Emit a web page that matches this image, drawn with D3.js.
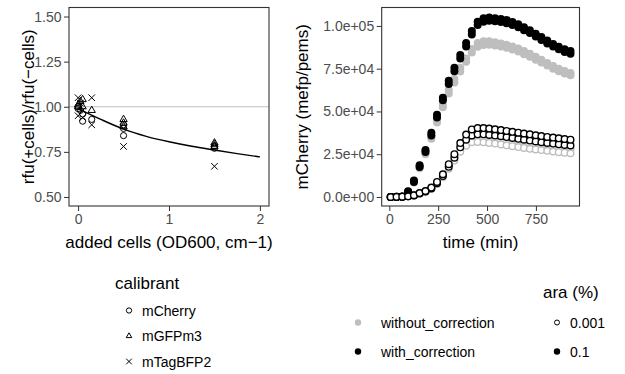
<!DOCTYPE html>
<html>
<head>
<meta charset="utf-8">
<script src="https://cdn.jsdelivr.net/npm/d3@7"></script>
<style>
    body { margin: 0; background: #fff; }
    svg { font-family: "Liberation Sans", Arial, Helvetica, sans-serif; }
    .assi text { fill: #4d4d4d; font-size: 14px; }
    .assi line { stroke: #333; }
    .assi path { display: none; }
</style>
</head>
<body>
<svg width="625" height="374"></svg>
<script>
"use strict"
// --- pannello sinistro: calibranti ---
const calibranti = ["mCherry", "mGFPm3", "mTagBFP2"];
const odCherry = [0, 0, 0.025, 0.05, 0.05, 0.15, 0.5, 0.5, 0.5, 1.5, 1.5];
const rfuCherry = [1.00, 0.99, 0.98, 0.96, 0.92, 0.93, 0.90, 0.88, 0.84, 0.78, 0.77];
const odGFP = [0, 0, 0.025, 0.05, 0.05, 0.15, 0.5, 0.5, 0.5, 1.5, 1.5, 1.5];
const rfuGFP = [1.01, 1.00, 1.03, 1.04, 1.00, 0.98, 0.93, 0.91, 0.89, 0.80, 0.79, 0.78];
const odBFP = [0, 0, 0.025, 0.05, 0.05, 0.15, 0.15, 0.5, 1.5];
const rfuBFP = [1.05, 0.95, 1.02, 0.98, 0.94, 1.05, 0.90, 0.78, 0.67];
// curva stimata
const curvaX = [0, 0.25, 0.5, 0.75, 1, 1.25, 1.5, 1.75, 2];
const curvaY = [0.99, 0.93, 0.876, 0.836, 0.806, 0.781, 0.760, 0.740, 0.722];
const tickSx = [0, 1, 2];
const tickSy = [0.5, 0.75, 1, 1.25, 1.5];

// --- pannello destro: mCherry nel tempo (migliaia di mefp/pems) ---
const tempi = [7, 37, 66, 96, 126, 155, 185, 215, 244, 274, 304, 333, 363, 393, 422, 452,
    482, 511, 541, 571, 600, 630, 660, 689, 719, 749, 778, 808, 838, 867, 897, 927];
const con01A = [0, 0, 0.3, 3.3, 9.6, 18.6, 27.5, 37.5, 48, 58, 68, 75.5, 83, 90, 97, 102.5,
    104.5, 105, 104.5, 104, 103.5, 102.3, 101, 99.3, 97.5, 95.5, 93.5, 91.5, 89.5, 87.8, 86.3, 85.3];
const con01B = [0, 0, 0.2, 2.8, 8.8, 17.5, 26.3, 36, 46.5, 56.5, 66, 73.5, 81, 88, 95, 100.5,
    102.5, 103, 102.8, 102.3, 101.6, 100.5, 99.2, 97.5, 95.8, 93.8, 91.8, 89.8, 88, 86.3, 84.8, 83.8];
const senza01A = [0, 0, 0.3, 3.2, 9.3, 17.8, 26.2, 35.5, 45, 54, 62.5, 69, 75.5, 81, 86.5, 90,
    91, 91, 90.5, 89.8, 89, 88, 86.8, 85.3, 83.7, 82, 80.2, 78.4, 76.6, 75, 73.6, 72.5];
const senza01B = [0, 0, 0.2, 2.7, 8.5, 16.8, 25, 34, 43.5, 52.5, 60.5, 67, 73.3, 79, 84.5, 87.8,
    88.8, 89, 88.6, 88, 87.2, 86.2, 85, 83.5, 82, 80.3, 78.6, 76.8, 75, 73.5, 72.2, 71.2];
const con001A = [0, 0.1, 0.2, 0.4, 1.0, 2.3, 3.5, 5.5, 8.8, 13.3, 19.2, 25, 31.5, 36.5, 39.5, 40.3,
    40.3, 40, 39.6, 39.1, 38.6, 38.1, 37.6, 37.1, 36.6, 36.1, 35.6, 35.1, 34.7, 34.3, 33.9, 33.5];
const con001B = [0, 0.1, 0.2, 0.4, 0.9, 2.1, 3.2, 5.0, 8.0, 12.2, 17.6, 23, 29, 33.5, 36, 36.6,
    36.6, 36.3, 35.9, 35.5, 35, 34.5, 34, 33.5, 33, 32.5, 32, 31.6, 31.2, 30.8, 30.4, 30.1];
const senza001A = [0, 0.1, 0.2, 0.4, 1.0, 2.2, 3.4, 5.3, 8.4, 12.6, 18, 23.3, 29, 33, 35, 35.3,
    35, 34.6, 34.1, 33.6, 33.1, 32.6, 32.1, 31.6, 31.1, 30.6, 30.1, 29.6, 29.2, 28.8, 28.4, 28];
const senza001B = [0, 0.1, 0.2, 0.4, 0.9, 2, 3.1, 4.8, 7.6, 11.5, 16.5, 21.3, 26.5, 30, 32, 32.2,
    32, 31.6, 31.2, 30.7, 30.2, 29.7, 29.2, 28.7, 28.2, 27.8, 27.4, 27, 26.6, 26.2, 25.9, 25.5];
const correzioni = ["without_correction", "with_correction"];
const ara = ["0.001", "0.1"];
const tickDx = [0, 250, 500, 750];
const tickDy = [0, 25000, 50000, 75000, 100000];

const svg = d3.select("svg");
svg.append("rect").attr("width", 625).attr("height", 374).attr("fill", "#fff");

const sx = { x0: 69, x1: 269, y0: 7.5, y1: 206 };
const dx = { x0: 381.7, x1: 579.5, y0: 7.5, y1: 206 };

// ---------------- pannello sinistro ----------------
const scalaX1 = d3.scaleLinear().domain([-0.1, 2.1]).range([sx.x0, sx.x1]);
const scalaY1 = d3.scaleLinear().domain([0.45, 1.55]).range([sx.y1, sx.y0]);

svg.append("line")
    .attr("x1", sx.x0).attr("x2", sx.x1)
    .attr("y1", scalaY1(1)).attr("y2", scalaY1(1))
    .attr("stroke", "#bebebe").attr("stroke-width", 1.1);

const forme = {
    mCherry: d3.symbol().type(d3.symbolCircle).size(30),
    mGFPm3: d3.symbol().type(d3.symbolTriangle2).size(38),
    mTagBFP2: d3.symbol().type(d3.symbolTimes).size(30)
};

const punti = [];
odCherry.forEach(function (d, i) { punti.push({ c: "mCherry", x: d, y: rfuCherry[i] }) });
odGFP.forEach(function (d, i) { punti.push({ c: "mGFPm3", x: d, y: rfuGFP[i] }) });
odBFP.forEach(function (d, i) { punti.push({ c: "mTagBFP2", x: d, y: rfuBFP[i] }) });

svg.append("g").selectAll("path")
    .data(punti)
    .enter()
    .append("path")
    .attr("d", function (d) { return forme[d.c]() })
    .attr("transform", function (d) { return `translate(${scalaX1(d.x)},${scalaY1(d.y)})` })
    .attr("fill", "none")
    .attr("stroke", "#000")
    .attr("stroke-width", 1);

const linea = d3.line()
    .x(function (d, i) { return scalaX1(curvaX[i]) })
    .y(function (d) { return scalaY1(d) })
    .curve(d3.curveMonotoneX);
svg.append("path")
    .attr("d", linea(curvaY))
    .attr("fill", "none")
    .attr("stroke", "#000")
    .attr("stroke-width", 1.4);

svg.append("rect")
    .attr("x", sx.x0).attr("y", sx.y0)
    .attr("width", sx.x1 - sx.x0).attr("height", sx.y1 - sx.y0)
    .attr("fill", "none").attr("stroke", "#333").attr("stroke-width", 1.1);

svg.append("g").attr("class", "assi")
    .attr("transform", `translate(0,${sx.y1})`)
    .call(d3.axisBottom(scalaX1).tickValues(tickSx).tickFormat(d3.format("d")).tickSize(5).tickPadding(3));
svg.append("g").attr("class", "assi")
    .attr("transform", `translate(${sx.x0},0)`)
    .call(d3.axisLeft(scalaY1).tickValues(tickSy).tickFormat(d3.format(".2f")).tickSize(5).tickPadding(2.5));

svg.append("text")
    .attr("x", (sx.x0 + sx.x1) / 2).attr("y", 248)
    .attr("text-anchor", "middle").attr("font-size", "17px")
    .text("added cells (OD600, cm\u22121)");
svg.append("text")
    .attr("transform", `translate(34,${(sx.y0 + sx.y1) / 2}) rotate(-90)`)
    .attr("text-anchor", "middle").attr("font-size", "17px")
    .text("rfu(+cells)/rfu(\u2212cells)");

// ---------------- pannello destro ----------------
const scalaX2 = d3.scaleLinear().domain([-39, 973]).range([dx.x0, dx.x1]);
const scalaY2 = d3.scaleLinear().domain([-5275, 110775]).range([dx.y1, dx.y0]);

const serie = [
    { corr: "without_correction", ara: "0.1", v: senza01A },
    { corr: "without_correction", ara: "0.1", v: senza01B },
    { corr: "without_correction", ara: "0.001", v: senza001A },
    { corr: "without_correction", ara: "0.001", v: senza001B },
    { corr: "with_correction", ara: "0.1", v: con01B },
    { corr: "with_correction", ara: "0.1", v: con01A },
    { corr: "with_correction", ara: "0.001", v: con001B },
    { corr: "with_correction", ara: "0.001", v: con001A }
];
const colore = d3.scaleOrdinal().domain(correzioni).range(["#bebebe", "#000000"]);

serie.forEach(function (s) {
    const aperto = s.ara === "0.001";
    svg.append("g").selectAll("circle")
        .data(s.v)
        .enter()
        .append("circle")
        .attr("cx", function (d, i) { return scalaX2(tempi[i]) })
        .attr("cy", function (d) { return scalaY2(d * 1000) })
        .attr("r", aperto ? 3.3 : 4)
        .attr("fill", aperto ? "#fff" : colore(s.corr))
        .attr("stroke", colore(s.corr))
        .attr("stroke-width", aperto ? 1.4 : 0);
});

svg.append("rect")
    .attr("x", dx.x0).attr("y", dx.y0)
    .attr("width", dx.x1 - dx.x0).attr("height", dx.y1 - dx.y0)
    .attr("fill", "none").attr("stroke", "#333").attr("stroke-width", 1.1);

function formatoE(d) {
    const s = d3.format(".1e")(d);
    return s.replace(/e([+-])(\d)$/, "e$10$2");
}

svg.append("g").attr("class", "assi")
    .attr("transform", `translate(0,${dx.y1})`)
    .call(d3.axisBottom(scalaX2).tickValues(tickDx).tickSize(5).tickPadding(3));
svg.append("g").attr("class", "assi")
    .attr("transform", `translate(${dx.x0},0)`)
    .call(d3.axisLeft(scalaY2).tickValues(tickDy).tickFormat(formatoE).tickSize(5).tickPadding(2.5));

svg.append("text")
    .attr("x", (dx.x0 + dx.x1) / 2).attr("y", 248)
    .attr("text-anchor", "middle").attr("font-size", "17px")
    .text("time (min)");
svg.append("text")
    .attr("transform", `translate(308,${(dx.y0 + dx.y1) / 2}) rotate(-90)`)
    .attr("text-anchor", "middle").attr("font-size", "17px")
    .text("mCherry (mefp/pems)");

// ---------------- legende ----------------
const leg1 = svg.append("g").attr("transform", "translate(115,0)");
leg1.append("text").attr("x", 0).attr("y", 289).attr("font-size", "17px").text("calibrant");
const yLeg1 = [310.5, 336, 361.5];
calibranti.forEach(function (c, i) {
    leg1.append("path")
        .attr("d", d3.symbol().type(c === "mCherry" ? d3.symbolCircle : c === "mGFPm3" ? d3.symbolTriangle2 : d3.symbolTimes).size(22)())
        .attr("transform", `translate(14,${yLeg1[i]})`)
        .attr("fill", "none").attr("stroke", "#000").attr("stroke-width", 1);
    leg1.append("text").attr("x", 27).attr("y", yLeg1[i] + 5)
        .attr("font-size", "14px").attr("fill", "#000").text(c);
});

const yLeg2 = [322.5, 351.5];
const leg2 = svg.append("g");
correzioni.forEach(function (c, i) {
    leg2.append("circle").attr("cx", 358).attr("cy", yLeg2[i]).attr("r", 3.2).attr("fill", colore(c));
    leg2.append("text").attr("x", 381).attr("y", yLeg2[i] + 5)
        .attr("font-size", "14px").text(c);
});

const leg3 = svg.append("g");
leg3.append("text").attr("x", 543).attr("y", 298).attr("font-size", "17px").text("ara (%)");
ara.forEach(function (a, i) {
    const aperto = a === "0.001";
    leg3.append("circle").attr("cx", 557).attr("cy", yLeg2[i])
        .attr("r", aperto ? 2.5 : 3.2)
        .attr("fill", aperto ? "#fff" : "#000")
        .attr("stroke", "#000").attr("stroke-width", aperto ? 1 : 0);
    leg3.append("text").attr("x", 570).attr("y", yLeg2[i] + 5)
        .attr("font-size", "14px").text(a);
});
</script>
</body>
</html>
